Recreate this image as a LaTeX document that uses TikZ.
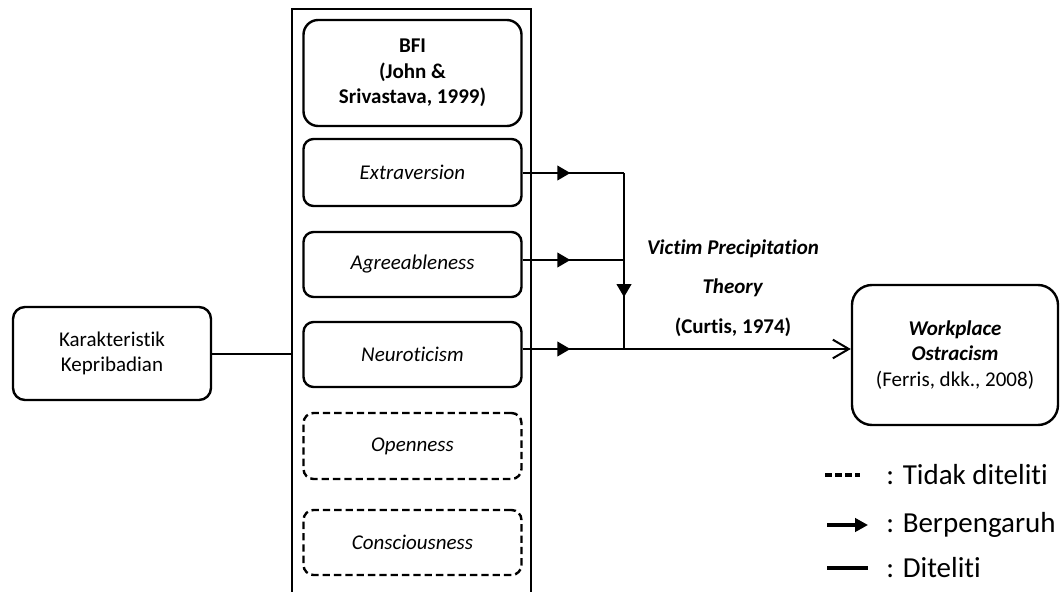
\documentclass[tikz,border=0pt]{standalone}
\usepackage{fontspec}
\setmainfont{Carlito}[Ligatures={NoCommon}]
\usetikzlibrary{arrows.meta,decorations.markings}

\newcommand\boxsize{\fontsize{15.75}{19}\selectfont}

\tikzset{
    trait/.style={draw, line width=1.8pt, rounded corners=7.5pt, align=center,
        minimum width=218*0.75pt, minimum height=65*0.75pt, font=\boxsize\itshape},
    nottested/.style={trait, dashed, dash pattern=on 5.5pt off 3pt},
    link/.style={line width=1.5pt},
    midarrow/.style={postaction={decorate}, decoration={markings,
        mark=at position #1 with {\arrow{Triangle[length=9.75pt,width=11pt]}}}},
    legendtext/.style={anchor=west, inner sep=0pt, font=\fontsize{21.75}{26}\selectfont},
}

\begin{document}
\begin{tikzpicture}[x=0.75pt, y=-0.75pt, font=\boxsize]
    \useasboundingbox (0,0) rectangle (1063,592);

    % BFI column
    \node[draw, line width=1.5pt, minimum width=239*0.75pt, minimum height=600*0.75pt] (outer) at (411.5,309) {};
    \node[trait, font=\boxsize\bfseries, rounded corners=11pt, minimum height=106*0.75pt] (bfi) at (412.5,73) {BFI\\(John \&\\Srivastava, 1999)};
    \node[trait, minimum height=67*0.75pt] (extra) at (412.5,172.5) {Extraversion};
    \node[trait] (agree) at (412.5,264.5) {Agreeableness};
    \node[trait] (neuro) at (412.5,354.5) {Neuroticism};
    \node[nottested, minimum height=66*0.75pt] (open) at (412.5,446) {Openness};
    \node[nottested] (consc) at (412.5,542.5) {Consciousness};

    \node[draw, line width=1.8pt, rounded corners=9pt, align=center, minimum width=198*0.75pt, minimum height=93*0.75pt] (karak) at (112,353.5) {Karakteristik\\Kepribadian};
    \node[draw, line width=1.8pt, rounded corners=15pt, align=center, minimum width=206*0.75pt, minimum height=140*0.75pt] (work) at (955,355) {\textbf{\textit{Workplace}}\\\textbf{\textit{Ostracism}}\\(Ferris, dkk., 2008)};

    \node[align=center, font=\boxsize\bfseries] (theory) at (733,288) {\textit{Victim Precipitation}\\[10.5pt]\textit{Theory}\\[10.5pt](Curtis, 1974)};

    \coordinate (jE) at (624,173);
    \coordinate (jA) at (624,260);
    \coordinate (jN) at (624,349);

    \draw[link] (karak.east) -- (karak.east -| outer.west);
    \draw[link, midarrow=0.47] (extra.east |- jE) -- (jE);
    \draw[link, midarrow=0.47] (agree.east |- jA) -- (jA);
    \draw[link, midarrow=0.47] (neuro.east |- jN) -- (jN);
    \draw[link, midarrow=0.705] (jE) -- (jN);
    \draw[link, -{Straight Barb[length=12pt,width=14pt]}] (jN) -- (work.west |- jN);

    % legend
    \coordinate (l1a) at (825,475); \coordinate (l1b) at (860,475);
    \coordinate (l2a) at (827,525); \coordinate (l2b) at (868,525);
    \coordinate (l3a) at (827,568); \coordinate (l3b) at (868,568);
    \draw[line width=2.4pt, dash pattern=on 5.5pt off 2pt] (l1a) -- (l1b);
    \draw[line width=2.6pt, -{Triangle[length=9.75pt,width=10pt]}] (l2a) -- (l2b);
    \draw[line width=2.6pt] (l3a) -- (l3b);
    \node[legendtext] (lg1) at (886,475) {: Tidak diteliti};
    \node[legendtext] (lg2) at (886,525) {: Berpengaruh};
    \node[legendtext] (lg3) at (886,568) {: Diteliti};
\end{tikzpicture}
\end{document}
